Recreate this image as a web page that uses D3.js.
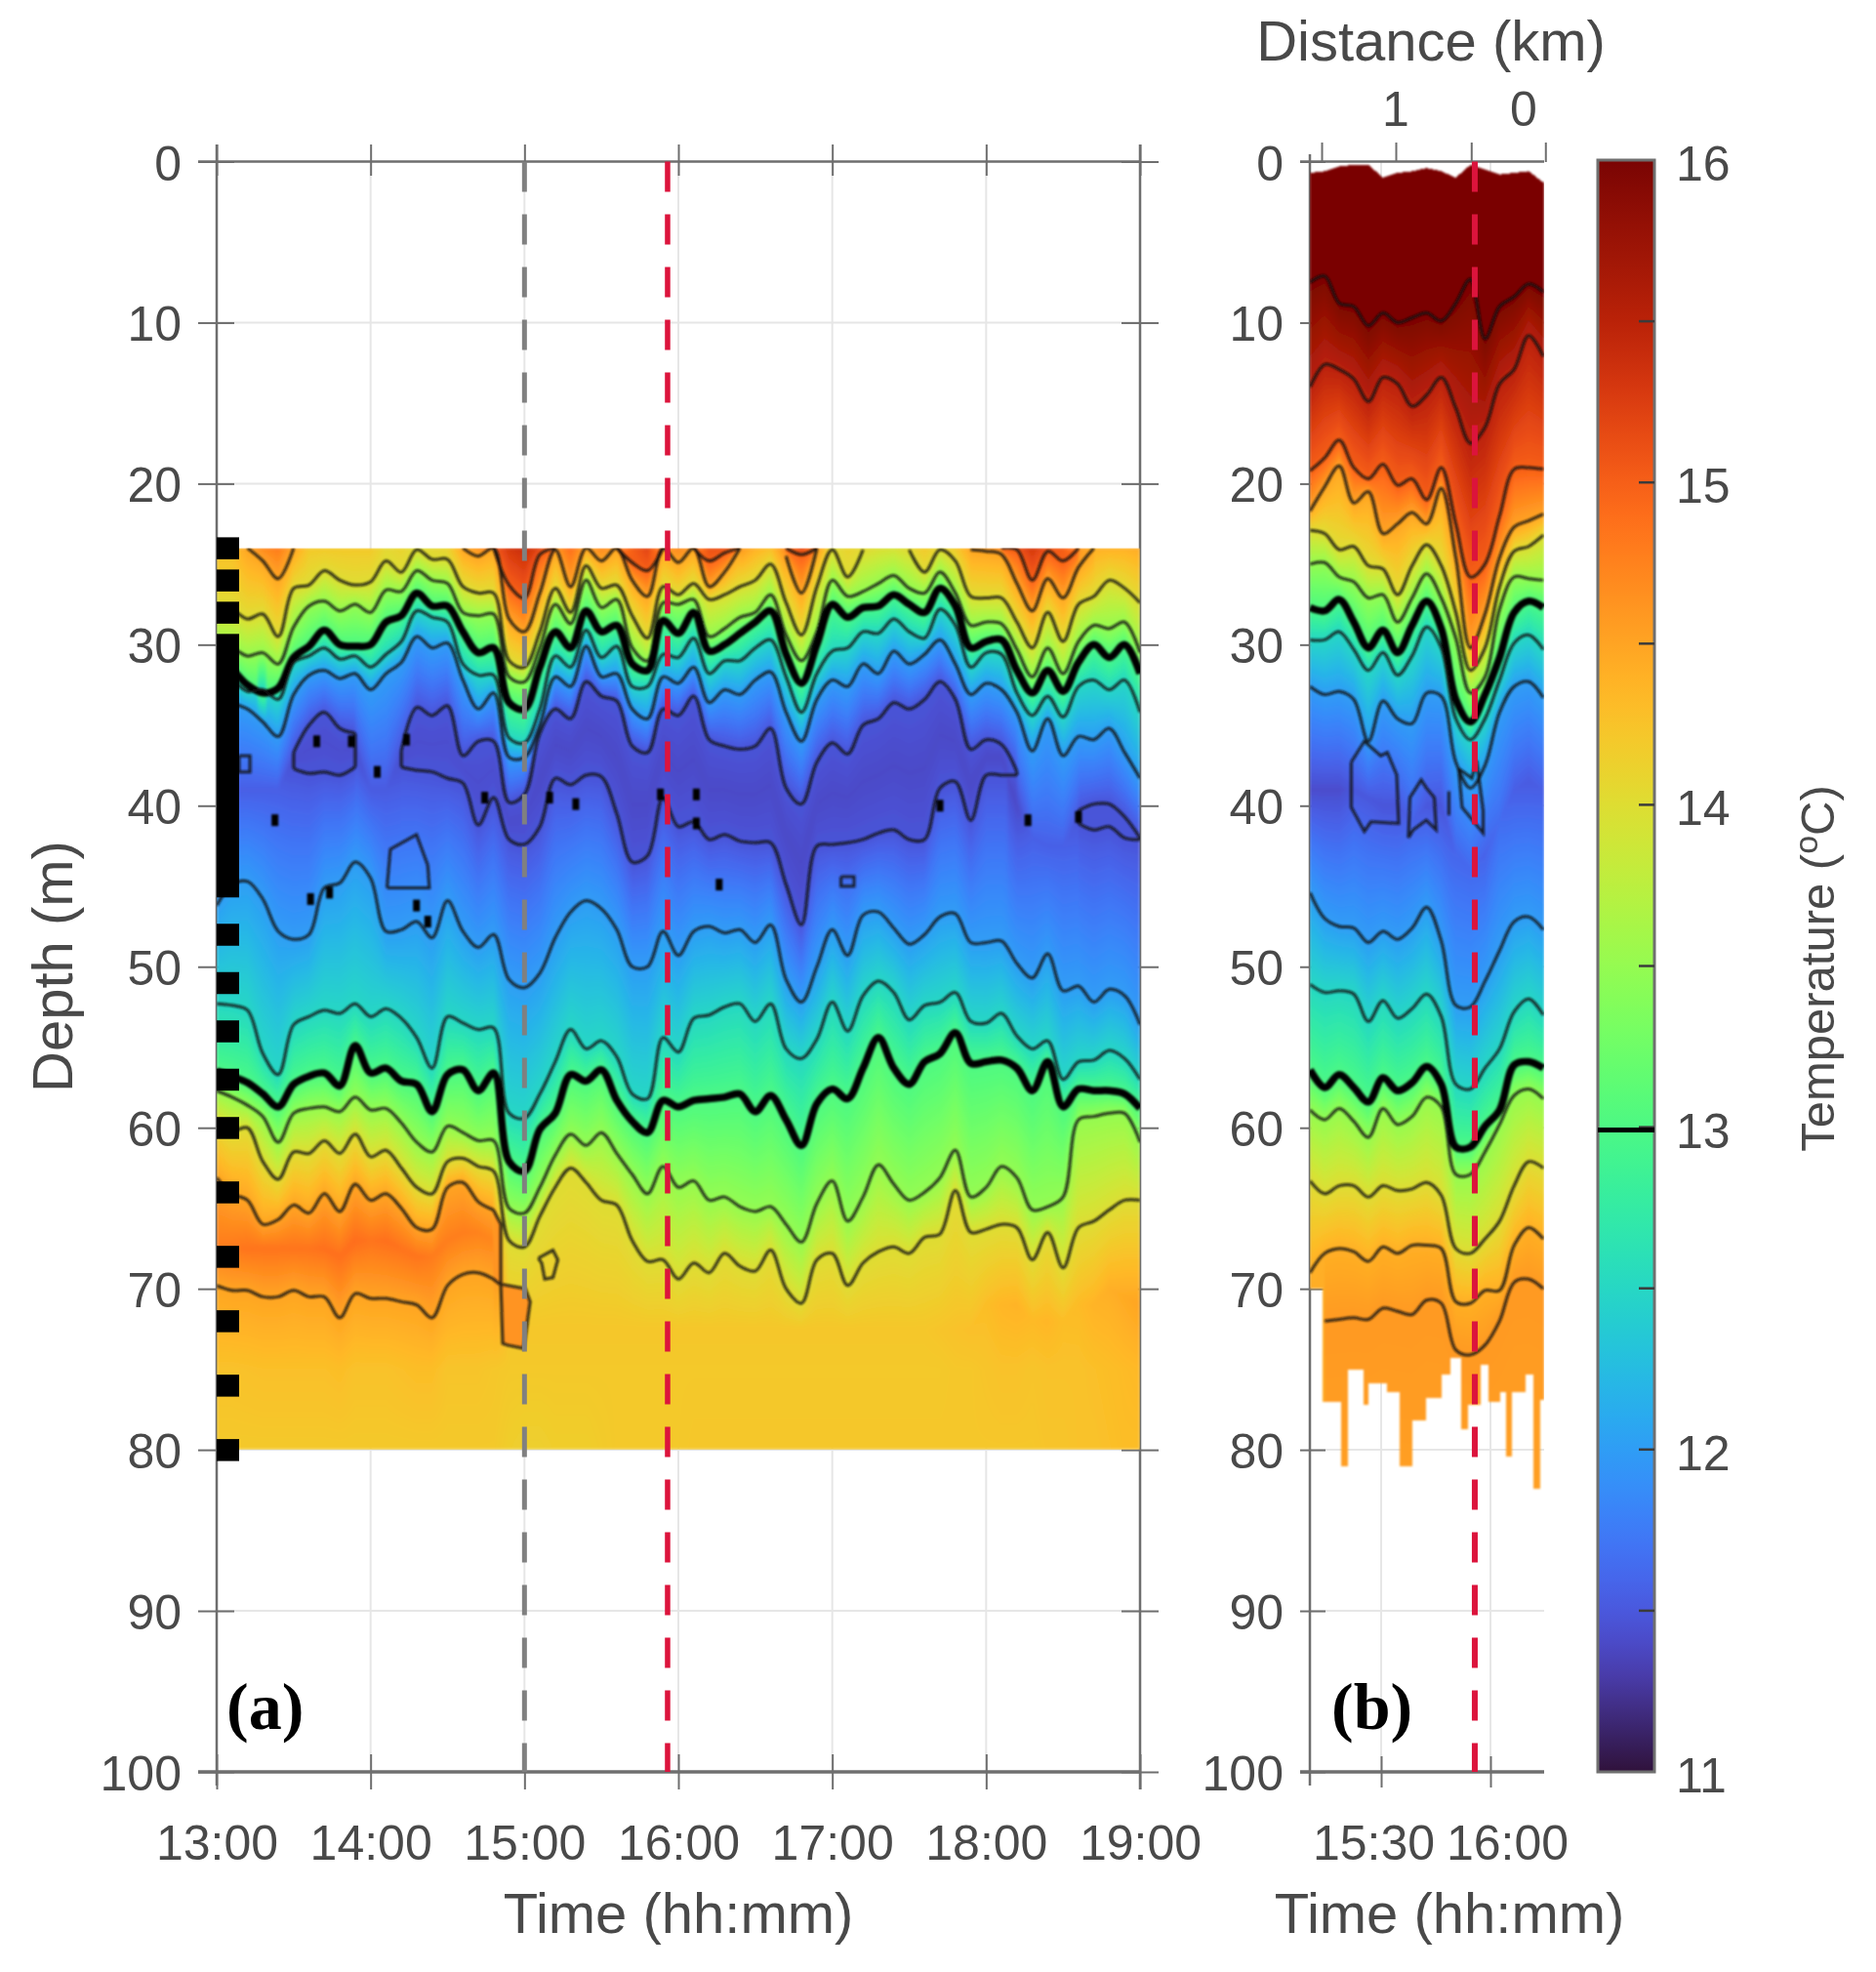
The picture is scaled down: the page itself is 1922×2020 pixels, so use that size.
<!DOCTYPE html>
<html>
<head>
<meta charset="utf-8">
<script src="https://cdn.jsdelivr.net/npm/d3@7"></script>
<style>
  html, body { margin: 0; padding: 0; background: #fff; }
  svg { display: block; }
</style>
</head>
<body>
<div id="chart"></div>
<script>
const n = null

// panel (a): isotherm depth (m) read every 6 minutes from 13:00 to 19:00
const a150 = [n,n,n,n,n,n,n,n,n,n, n,n,n,n,n,n,n,n,24,26.3, 27.1,24.4,24,n,n,n,24,24.9,25.4,24, n,24,24.8,24.3,24,n,n,24,24.4,24, n,n,n,n,n,n,n,n,n,n, n,24,24.1,26,24.2,24.8,24,n,n,n, n]
const a145 = [n,n,24,24.8,25.9,24,n,n,n,n, n,n,n,n,n,n,24,24.5,24,28.4, 29.2,26.8,24.1,26.4,24,24.8,24,26,27,24, 24.9,24,26.4,25.5,24,n,n,24.5,26.8,24, n,n,n,n,n,n,n,n,n,24.1, 24.2,24.4,26.2,27.9,25.9,27.1,25.2,24,n,n, n]
const a140 = [27.6,27.8,28.4,28.1,29.5,26.5,26.3,25.4,26,26.3, 26.1,24.8,25.5,24.1,24.7,24.7,26.4,26.8,26.8,31, 31.4,29.2,26.5,28,25.1,26.5,26.3,28.2,29.6,26.4, 26.9,26.2,27.2,26.9,26.4,26,25,27.4,29.4,26.4, 24.1,25.8,24.1,n,n,24.1,25.5,24.1,24.8,27, 27.1,27.1,28.6,30.2,28,29.8,27.5,27,26,26.5, 27.4]
const a135 = [30.1,30.2,30.7,30.5,31.2,28.9,27.6,27.3,27.9,27.5, 28,26.6,26.7,25.4,26,26.2,28,28.2,28.1,32, 32.3,30.2,27.5,28.7,26,27.7,27.2,30.2,31,27.4, 27.5,27.2,29.5,29,28.3,28,26.9,29.4,31,29.2, 26,27,26.7,26.2,25.7,26.5,26.8,25.5,26.8,28.8, 28.6,28.7,30.3,32,30.2,31.8,29.8,28.8,29,28.6, 30.5]
const a130 = [30.5,31.5,32.5,33,32.7,30.8,30.1,29.1,30,30.1, 30,28.6,28.2,26.8,27.6,27.6,29.2,30.5,30.2,33.6, 34,31.4,29.2,30.2,27.9,29.2,28.8,31.2,31.6,28.5, 29.3,28,30.4,30,29.3,28.6,27.9,30.6,32.4,30, 27.5,28.3,27.7,27.6,26.9,27.5,28,26.5,27.6,30.2, 29.8,29.7,31.6,33,31.6,32.9,31.1,30,30.8,30, 31.8]
const a125 = [31.8,32.2,32.9,32.8,33.4,31.1,30.7,30.2,30.9,30.7, 31.4,30.6,29.8,27.9,28.3,28.6,31.2,31.9,31.9,35.8, 36.1,34,30.7,31.4,29.1,30.8,30.1,32.6,32.6,30.6, 30.8,29.6,31.8,31,31,30.2,29.7,32,34.2,31.8, 30.4,30.2,29.2,29.3,28.4,29.2,29.6,27.8,28.8,31.4, 30.5,30.6,33,34.4,33.2,34.5,32.6,32.2,32.8,32.2, 34.2]
const a120 = [33,33.6,34,34.8,35.7,33.1,31.9,31.6,32.1,31.8, 32.8,31.8,31.1,29.5,30.2,29.9,32.2,34,33,37, 37,35,32,32.6,30.1,32,31.8,34,34.6,32, 32.4,31.4,33.6,32.8,33.1,32.2,31.7,34.2,36,33.4, 32.2,32.6,31.2,31.8,30.4,31.2,30.6,29.7,31.2,33.1, 32.4,32.8,34.2,36.6,34.6,36.9,35.7,35.9,35.2,36.7, 38.3]
const a115up = [n,n,n,n,n,36.7,35,34.2,35.2,35.5, n,n,36.6,33.9,34.4,33.8,36.9,36,36,39.8, 39.3,35.5,34,34.6,32.3,33.2,33.5,36.3,36.7,34, 34.4,33.2,35.9,36.3,36.5,36.3,35.2,38.9,39.9,37.3, 36.1,36.8,35,34.6,33.6,34,33.4,32.3,33.4,36.5, 35.9,36.2,37.9,n,n,n,40.3,39.9,39.9,40.7, 42]
const a115low = [n,n,n,n,n,37.7,38,37.9,38.1,37.6, n,n,37.6,37.8,37.9,38.3,38.6,41.2,39.5,42.1, 42.4,41.3,38.3,38.7,38.1,38.2,40.5,43.5,43.1,39.5, 41.3,41,42.1,41.8,42.2,42.3,42.3,44.9,47.4,42.5, 42.4,42.3,42.1,41.7,41.5,42.1,42.1,38.9,38.5,40.9, 38.1,38.1,38.1,n,n,n,41.1,41.5,41.3,42, 42.1]
const a120low = [46.2,44.9,44.7,45.8,47.8,48.3,48,45.1,44.8,43.5, 44.5,47.8,47.7,47.2,48.2,45.9,47.8,48.8,48,50.8, 51.3,50.4,48.2,46.6,45.9,46.4,47.7,50,50,47.8, 49.3,47.8,47.5,47.9,47.7,48.5,47.4,50.8,52.2,50, 47.7,49.3,46.8,46.6,47.6,48.6,48,46.9,46.7,48.5, 48.5,48.4,49.8,50.7,49.2,51.5,51.2,52.2,51.4,51.8, 53.6]
const a125low = [52.3,52.4,52.7,55.4,56.7,53.6,53.1,52.7,52.9,52.3, 53.1,52.6,53.2,54.4,56.3,53.1,53.5,53.9,53.8,59.1, 59.4,57.9,55.9,53.9,55.1,54.6,55.6,57.9,58.2,54.4, 55.3,53.2,53,52.5,52.3,53.4,52.3,55.1,55.7,54.5, 52.2,54,51.8,50.9,51.6,53.3,52.4,52.2,51.6,53.4, 53.5,52.9,54.3,55.1,54.6,57,55.9,55.8,55.2,55.7, 57]
const a130low = [56.5,56.8,57.2,57.9,58.7,57.3,56.8,56.6,57.4,54.9, 56.6,56.3,57.1,57.3,59,56.7,56.4,57.7,56.6,62.1, 62.7,60.1,59.1,56.7,57.1,56.4,58.3,59.6,60.3,58.3, 58.7,58.3,58.2,58.1,57.9,59,58,59.5,61.1,58.5, 57.6,58.2,56.3,54.4,56.3,57.3,55.9,55.4,54.1,56, 55.9,55.8,56.3,57.7,55.9,58.7,57.6,57.7,57.7,57.9, 58.8]
const a135low = [57.7,58.1,58.6,59.3,60.9,59.1,58.8,58.7,59,58.1, 58.9,58.8,59.7,60.9,61.5,59.9,60.3,60.8,60.8,65, 65.3,63.7,61.7,60.4,61.1,60.3,61.6,62.9,64.1,62.4, 63.7,63.3,64.5,64.3,64.9,65.2,64.9,66,67.1,64.7, 63.3,65.8,64.3,62.3,63.5,64.5,64,63.1,61.4,64.3, 63.7,62.4,63.1,65.1,64.9,64.3,59.5,59.3,59.1,59.1, 60.9]
const a140low = [59.5,60.2,60,62.1,63.2,61.5,61.6,60.8,61.6,60.4, 61.8,61.4,62.5,63.7,64.1,62.1,61.9,62.4,62.7,67, 67.4,65.5,63.7,62.5,63.4,64.5,64.8,67,68.3,68.2, 69.4,68.4,69,67.8,68.6,68.9,67.6,70,70.9,68.2, 67.8,69.8,68.4,67.7,67.4,67.8,66.8,66.6,63.9,66.5, 66.3,66,66.2,68.2,66.5,68.7,66.2,65.8,65.1,64.5, 64.5]
const a145top = [63.1,64.1,64.5,66,65.7,64.8,65.3,64.1,65.2,63.5, 64.5,64.1,65,66.2,66.3,63.7,63.4,64.6,65.1]
const a145bot = [69.8,70.1,70.1,70.5,70.5,70.1,70.5,70.5,71.8,70.3, 70.6,70.6,70.8,71,71.8,69.8,69.1,69,69.4]

// panel (a): temperatures (deg C) read from the shading
const aTopT = [14.3,14.3,14.5,14.7,14.8,14.5,14.2,14.2,14.2,14.2, 14.2,14.05,14.1,14,14.05,14.1,14.5,14.6,15,15.3, 15.4,15.2,14.6,14.9,14.5,14.7,14.6,15,15.2,14.6, 14.7,14.6,15.1,15.1,14.6,14.4,14.3,14.7,15.2,14.6, 14,14.1,14.05,13.98,13.95,14.05,14.2,14.05,14.2,14.5, 14.6,14.7,15.1,15.3,15.1,15,14.6,14.4,14.4,14.4, 14.45]
const aColdD = [39,39,39,39,39,37,36.5,36,36.6,36.5, 39,39,37,36,36.2,36,37.7,38.6,37.7,41, 40.8,38.4,36.2,36.6,35.2,35.7,37,39.9,39.9,36.8, 37.9,37.1,39,39,39.3,39.3,38.7,41.9,43.6,39.9, 39.2,39.5,38.5,38.1,37.5,38,37.7,35.6,36,38.7, 37,37,40,42,42.5,42.5,40.7,40.7,40.6,41.3, 42]
const aColdT = [11.55,11.55,11.55,11.55,11.55,11.43,11.43,11.43,11.43,11.43, 11.52,11.52,11.43,11.43,11.43,11.43,11.43,11.43,11.43,11.42, 11.42,11.4,11.4,11.4,11.4,11.4,11.4,11.4,11.4,11.4, 11.4,11.4,11.4,11.4,11.4,11.4,11.4,11.4,11.4,11.4, 11.4,11.4,11.4,11.4,11.4,11.4,11.4,11.4,11.4,11.4, 11.4,11.4,11.4,11.56,11.56,11.56,11.48,11.48,11.48,11.48, 11.48]
const aWarmD = [67.5,67.5,67.5,67.5,67.5,67.5,67.5,67.5,68,67, 67,67,67.5,68,68,67,66.5,66.5,67,72.5, 72.5,72.5,72.5,72.5,72.5,72.5,72.5,72.5,72.5,72.5, 72.5,72.5,72.5,72.5,72.5,72.5,72.5,72.5,72.5,72.5, 72.5,72.5,72.5,72.5,72.5,72.5,72.5,72.5,72.5,72.5, 71,71,71,72,72,72,71,71,70,70.5, 71]
const aWarmT = [14.8,14.82,14.85,14.85,14.85,14.85,14.85,14.88,14.88,14.9, 14.85,14.88,14.86,14.85,14.8,14.78,14.78,14.75,14.72,14.22, 14.22,14.22,14.22,14.22,14.22,14.22,14.22,14.22,14.22,14.22, 14.22,14.22,14.22,14.22,14.22,14.22,14.22,14.22,14.22,14.22, 14.22,14.22,14.22,14.22,14.22,14.22,14.22,14.24,14.26,14.28, 14.3,14.36,14.38,14.33,14.36,14.3,14.32,14.38,14.42,14.46, 14.5]
const aDeepT = [14.26,14.26,14.27,14.28,14.28,14.28,14.28,14.28,14.3,14.26, 14.26,14.26,14.28,14.3,14.3,14.24,14.24,14.24,14.22,14.2, 14.2,14.2,14.2,14.2,14.2,14.2,14.2,14.2,14.2,14.2, 14.2,14.2,14.2,14.2,14.2,14.2,14.2,14.2,14.2,14.2, 14.2,14.2,14.2,14.2,14.2,14.2,14.2,14.2,14.22,14.22, 14.24,14.26,14.26,14.24,14.26,14.26,14.26,14.28,14.3,14.32, 14.34]
const aBottomT = [14.2,14.2,14.2,14.2,14.2,14.2,14.2,14.2,14.2,14.2, 14.2,14.2,14.2,14.2,14.2,14.2,14.2,14.2,14.2,14.16, 14.14,14.14,14.16,14.16,14.16,14.18,14.2,14.2,14.2,14.2, 14.2,14.22,14.22,14.22,14.22,14.22,14.22,14.22,14.22,14.22, 14.22,14.22,14.22,14.22,14.22,14.22,14.22,14.22,14.22,14.22, 14.22,14.22,14.22,14.22,14.24,14.24,14.26,14.26,14.28,14.3, 14.3]

// panel (b): isotherm depth (m) read every 4 minutes from 15:10:30
const b160 = [7.5,7.1,8.8,9,10.2,9.4,10,9.7,9.4,9.9,8.8,7.3,11,9,8.4,7.6,8.1]
const b155 = [14,12.6,12.9,13.5,14.9,13.4,13.8,15.2,14.5,13.4,15.3,17.5,16.5,13.8,12.9,10.8,12.1]
const b150 = [19.2,18.4,17.3,19,19.7,18.8,20.1,19.7,21,19,22.5,25.8,25,22,19.1,19,19.1]
const b145 = [21.7,20.2,18.9,21.2,20.5,23.1,22.5,21.8,22.5,20.3,24.6,30.2,28.1,24.6,22.7,22.3,21.9]
const b140 = [22.9,23.1,24.1,23.9,25.1,25.3,26.9,25.1,23.8,25.1,28,31.6,30.2,26.4,24.2,23.9,23.2]
const b135 = [25,24.9,25.8,26.1,27.1,26.9,28.6,27.1,25.6,27.1,29.6,33,32,27.8,25.8,25.9,26]
const b130 = [27.7,27.9,27.2,28.6,30.2,29.1,30.5,28.8,27.3,29,33.4,34.8,33.1,30.8,28,27.3,27.7]
const b125 = [29.7,29.7,29.2,30.3,31.6,30.5,31.9,30.7,28.9,30.2,34.6,35.9,34.6,32.2,29.9,29.4,30.3]
const b120 = [32.6,33.1,32.9,33.4,36,33.5,34.6,34.9,33,33.2,37.3,38.9,37.5,34.2,32.6,32.3,33.3]
const b120low = [45.4,47,47.5,47.6,48.5,47.8,48.3,47.6,46.3,48.4,52.4,52.5,50.9,49,47.2,46.9,47.7]
const b125low = [51.1,51.6,51.5,51.7,53.4,52.1,53.2,52.6,51.7,53.1,57.3,57.6,56.3,55.1,52.8,52,53]
const b130low = [56.4,57.5,56.7,57.5,58.4,56.9,57.7,57.2,56.2,57.3,61.2,61.2,59.9,58.9,56.1,55.9,56.3]
const b135low = [58.9,59.5,58.8,59.6,60.6,58.8,59.8,59.3,58.1,58.7,62.9,62.9,61.5,59.8,58,57.6,58.2]
const b140low = [63.3,64.1,63.6,63.6,64.3,63.6,63.9,63.8,63.4,64.2,67.5,67.8,66.9,65.8,63.6,62.1,62.5]
const b145low = [69,67.8,67.5,67.7,68.3,67.4,67.8,67.3,67.3,67.5,70.8,70.9,70.1,70.1,67.3,66.2,66.9]
const b146low = [n,72,71.9,71.8,71.9,71.2,71.4,71.6,70.7,70.9,73.8,74.1,73.5,72,69.6,69.4,70]
const bTopEdge = [0.7,0.6,0.3,0.2,0.2,1,0.7,0.6,0.4,0.6,1,0.2,0.5,0.8,0.7,0.6,1.3]
const bColdD = [39,39,39,39,39.5,40,40,41,40,40,43,44,43,41,39,38.5,39]
const bColdT = [11.42,11.42,11.42,11.5,11.5,11.48,11.48,11.58,11.5,11.48,11.6,11.62,11.58,11.65,11.55,11.52,11.55]

// panel (b): jagged lower limit of the data, start minute of each step and its depth
const bStepT = [10.5,14,19,21,25.3,26.6,31.5,35,38.6,42.2,46.6,49,52,53.8,57.3,59.5,62.6,64.4,66,69.7,71.8,73.6]
const bStepD = [70,77,81,75,77.2,75.9,76.4,81,78.2,76.8,75.3,74.3,78.7,77.2,74.7,77,76.4,80.4,76.4,75.3,82.4,76.9]

// closed contours [minute of day, depth]
const aLobe = [[887.9,65.1],[890.8,66],[890.8,69.8],[891.5,73.4],[893.4,73.5],[899.7,73.7],[902.2,70.8],[900.3,70],[890.2,69.7],[887.9,69.4]]
const aLoops = [
  [[846.4,45.1],[847.7,42.7],[857.9,41.8],[862.3,43.7],[862.9,45.1],[856.6,45.1],[846.4,45.1]],
  [[788.7,36.9],[793,36.9],[793,37.9],[788.7,37.9],[788.7,36.9]],
  [[905.4,68.1],[911.1,67.6],[913,68.2],[911.1,69.3],[907.9,69.4],[906.7,68.4],[905.4,68.1]],
  [[1023.4,44.4],[1028.5,44.4],[1028.5,45],[1023.4,45],[1023.4,44.4]]
]
const bLoops = [
  [[921.8,37.3],[925.4,36],[929.9,36.9],[931.7,36.7],[934.3,38.1],[934.8,41.1],[927.2,41],[925.4,41.6],[921.8,40.1],[921.8,37.3]],
  [[937.5,42],[937.9,39.5],[941,38.4],[942.4,38.9],[944.6,39.5],[945.1,41.5],[942.4,40.9],[938.8,41.5],[937.5,42]],
  [[951.3,37.7],[954.9,38.3],[956.2,37.2],[958,40.3],[958,41.7],[952.2,40.1],[951.3,37.7]],
  [[948.6,39.1],[948.6,40.6]]
]
const aSpecks = [[802.7,40.9],[842.6,37.9],[920,39.9],[909.8,39.5],[884.5,39.5],[953,39.3],[819,36],[832.5,36],[854,35.9],[967,39.3],[1062,40],[1096.3,40.9],[975.9,44.9],[1116,40.7],[967,41.1],[824,45.4],[857.9,46.2],[816.6,45.8],[862.3,47.2]]

const sensorDepths = [24,26,28,30,31,32,33,34,35,36,37,38,39,40,41,42,43,44,45,48,51,54,57,60,64,68,72,76,80]
const depthTicks = [0,10,20,30,40,50,60,70,80,90,100]
const timeTicksA = [780,840,900,960,1020,1080,1140]
const timeTicksB = [930,960]
const distanceTicks = [1.58,1,0.41,-0.17]
const distanceLabels = [1,0]
const tempTicks = [11,11.5,12,12.5,13,13.5,14,14.5,15,15.5,16]
const tempLabels = [11,12,13,14,15,16]

const grayLineTime = 900
const redLineTime = 955.8
const redLineTimeB = 955.7

const textColor = "#4a4a4a"
const axisColor = "#6e6e6e"
const gridColor = "#e6e6e6"
const sans = "'Liberation Sans', Arial, sans-serif"

const W = 1922, H = 2020

const y = d3.scaleLinear().domain([0, 100]).range([165.5, 1815])
const xA = d3.scaleLinear().domain([780, 1140]).range([222, 1168])
const xB = d3.scaleLinear().domain([930, 960]).range([1415, 1527])
const xDist = d3.scaleLinear().domain([1, 0]).range([1430, 1561])
const yTemp = d3.scaleLinear().domain([11, 16]).range([1815, 164])
const temp = d3.scaleLinear().domain([11, 16]).range([0, 1]).clamp(true)

// d3's turbo polynomial misses the dark ends of the real map, so pull those in
const turboLow = d3.interpolateRgb("#30123b", d3.interpolateTurbo(0.06))
const turboHigh = d3.interpolateRgb(d3.interpolateTurbo(0.9), "#7a0403")
function palette(t) {
  if (t < 0.06) return turboLow(t / 0.06)
  if (t > 0.9) return turboHigh((t - 0.9) / 0.1)
  return d3.interpolateTurbo(t)
}
const color = T => palette(temp(T))

const timesA = d3.range(780, 1141, 6)
const timesB = d3.range(910.5, 975, 4)

const svg = d3.select("#chart").append("svg").attr("width", W).attr("height", H)
const defs = svg.append("defs")
defs.append("filter").attr("id", "soft").attr("x", "-2%").attr("y", "-2%").attr("width", "104%").attr("height", "104%")
  .append("feGaussianBlur").attr("stdDeviation", 0.9)
defs.append("filter").attr("id", "softer").attr("x", "-2%").attr("y", "-2%").attr("width", "104%").attr("height", "104%")
  .append("feGaussianBlur").attr("stdDeviation", 1.6)
defs.append("filter").attr("id", "softText").attr("x", "-5%").attr("y", "-5%").attr("width", "110%").attr("height", "110%")
  .append("feGaussianBlur").attr("stdDeviation", 0.7)

const root = svg.append("g")

// value of an array at a fractional knot, null when either end is missing
function at(arr, i, f) {
  const p = arr[i], q = arr[i + 1]
  if (p == null) return null
  if (f === 0) return p
  if (q == null) return null
  return p + (q - p) * f
}

function drawField(opts) {
  const { x, times, isos, extras, x0, x1, d0, d1, limits } = opts
  const py0 = Math.round(y(d0)), py1 = Math.round(y(d1))
  const w = x1 - x0, h = py1 - py0
  const canvas = document.createElement("canvas")
  canvas.width = w
  canvas.height = h
  const ctx = canvas.getContext("2d")
  const img = ctx.createImageData(w, h)
  const table = d3.range(1001).map(i => d3.rgb(palette(i / 1000)))
  const t0 = times[0], step = times[1] - times[0]

  for (let px = 0; px < w; px++) {
    const minute = x.invert(x0 + px + 0.5)
    let pos = (minute - t0) / step
    pos = Math.max(0, Math.min(times.length - 1.001, pos))
    const i = Math.floor(pos), f = pos - i

    const nodes = []
    isos.forEach(iso => {
      const d = at(iso.values, i, f)
      if (d != null) nodes.push([d, iso.fillLevel || iso.level])
    })
    extras.forEach(e => {
      const d = Array.isArray(e.depth) ? at(e.depth, i, f) : e.depth
      const T = Array.isArray(e.temp) ? at(e.temp, i, f) : e.temp
      if (d != null && T != null) nodes.push([d, T])
    })
    nodes.sort((p, q) => p[0] - q[0])
    const profile = d3.scaleLinear().domain(nodes.map(p => p[0])).range(nodes.map(p => p[1])).clamp(true)
    const lim = limits ? limits(minute, i, f) : [d0, d1]

    for (let py = 0; py < h; py++) {
      const depth = y.invert(py0 + py + 0.5)
      if (depth < lim[0] || depth > lim[1]) continue
      const c = table[Math.round(temp(profile(depth)) * 1000)]
      const o = (py * w + px) * 4
      img.data[o] = c.r
      img.data[o + 1] = c.g
      img.data[o + 2] = c.b
      img.data[o + 3] = 255
    }
  }
  ctx.putImageData(img, 0, 0)
  return { href: canvas.toDataURL(), x: x0, y: py0, width: w, height: h }
}

function drawAxes(g, x, left, right, opts) {
  const top = y(0), bottom = y(100)
  // grid
  g.append("g").selectAll("line").data(depthTicks.slice(1, 10)).join("line")
    .attr("x1", left).attr("x2", right).attr("y1", d => y(d)).attr("y2", d => y(d))
    .attr("stroke", gridColor).attr("stroke-width", 2)
  g.append("g").selectAll("line").data(opts.timeTicks).join("line")
    .attr("x1", d => x(d)).attr("x2", d => x(d)).attr("y1", top).attr("y2", bottom)
    .attr("stroke", gridColor).attr("stroke-width", 2)

  // left axis, labels on the outer side and a short tick inside
  g.append("g").attr("transform", `translate(${left},0)`)
    .call(d3.axisLeft(y).tickValues(depthTicks).tickSize(opts.outer).tickPadding(17))
    .call(styleAxis)
    .call(s => s.selectAll(".tick text").attr("dy", "0.37em"))
  g.append("g").attr("transform", `translate(${left},0)`)
    .call(d3.axisRight(y).tickValues(depthTicks).tickSize(opts.inner).tickFormat(""))
    .call(styleAxis)

  // bottom axis
  const fmt = m => d3.format("02")(Math.floor(m / 60)) + ":" + d3.format("02")(m % 60)
  const bottomAxis = g.append("g").attr("transform", `translate(0,${bottom})`)
    .call(d3.axisBottom(x).tickValues(opts.timeTicks).tickSize(opts.inner).tickPadding(54 - opts.inner).tickFormat(fmt))
    .call(styleAxis)
  if (opts.labelShift) bottomAxis.selectAll(".tick text").attr("dx", (d, i) => opts.labelShift[i])
  g.append("g").attr("transform", `translate(0,${bottom})`)
    .call(d3.axisTop(x).tickValues(opts.timeTicks).tickSize(opts.inner).tickFormat(""))
    .call(styleAxis)

  g.selectAll(".domain").remove()
  g.append("path").attr("d", `M${left},${opts.axisTop}V${bottom + 14}`).attr("stroke", axisColor).attr("stroke-width", 2.5).attr("fill", "none")
  g.append("path").attr("d", `M${left - opts.outer},${bottom}H${right}`).attr("stroke", axisColor).attr("stroke-width", 3.5).attr("fill", "none")
  g.append("path").attr("d", `M${left - opts.outer},${top}H${right}`).attr("stroke", axisColor).attr("stroke-width", 2.5).attr("fill", "none")
}

function styleAxis(sel) {
  sel.selectAll(".tick line").attr("stroke", axisColor).attr("stroke-width", 2)
  sel.selectAll(".tick text").attr("fill", textColor).style("font-family", sans).style("font-size", "50px")
  sel.attr("font-family", null)
}

function drawContours(g, x, times, isos, clipId) {
  const line = d3.line()
    .defined(d => d.v != null)
    .x(d => x(d.t))
    .y(d => y(d.v))
    .curve(d3.curveCatmullRom.alpha(0.5))
  const layer = g.append("g").attr("clip-path", `url(#${clipId})`).attr("filter", "url(#soft)")
  layer.selectAll("path.iso").data(isos).join("path")
    .attr("class", "iso")
    .attr("d", iso => line(iso.values.map((v, k) => ({ t: times[k], v: v === undefined ? null : v }))))
    .attr("fill", "none")
    .attr("stroke", iso => iso.thick ? "#000" : "#101010")
    .attr("stroke-opacity", iso => iso.thick ? 1 : 0.85)
    .attr("stroke-width", iso => iso.thick ? 7.5 : 3)
    .attr("stroke-linejoin", "round")
  return layer
}

function drawLoops(layer, x, loops) {
  const loopLine = d3.line().x(d => x(d[0])).y(d => y(d[1]))
  layer.selectAll("path.loop").data(loops).join("path")
    .attr("class", "loop")
    .attr("d", loopLine)
    .attr("fill", "none")
    .attr("stroke", "#101010")
    .attr("stroke-opacity", 0.85)
    .attr("stroke-width", 3)
}

function drawDashed(g, xpos, stroke, width) {
  g.append("line")
    .attr("x1", xpos).attr("x2", xpos).attr("y1", y(0)).attr("y2", y(100))
    .attr("stroke", stroke).attr("stroke-width", width)
    .attr("stroke-dasharray", "31 23")
}

// ---------- panel (a) ----------
const panelA = root.append("g")
drawAxes(panelA, xA, 222, 1168, { timeTicks: timeTicksA, outer: 19, inner: 18, axisTop: 148 })
// right axis of panel (a)
panelA.append("g").attr("transform", "translate(1168,0)")
  .call(d3.axisRight(y).tickValues(depthTicks).tickSize(19).tickFormat("")).call(styleAxis)
  .call(s => s.select(".domain").remove())
panelA.append("g").attr("transform", "translate(1168,0)")
  .call(d3.axisLeft(y).tickValues(depthTicks).tickSize(19).tickFormat("")).call(styleAxis)
  .call(s => s.select(".domain").remove())
panelA.append("path").attr("d", "M1168,148V1833").attr("stroke", axisColor).attr("stroke-width", 2.5)
panelA.append("g").attr("transform", "translate(0,166)")
  .call(d3.axisTop(xA).tickValues(timeTicksA).tickSize(18).tickFormat("")).call(styleAxis)
  .call(s => s.select(".domain").remove())
panelA.append("g").attr("transform", "translate(0,166)")
  .call(d3.axisBottom(xA).tickValues(timeTicksA).tickSize(14).tickFormat("")).call(styleAxis)
  .call(s => s.select(".domain").remove())

const isosA = [
  { level: 15, values: a150 },
  { level: 14.5, values: a145 },
  { level: 14, values: a140 },
  { level: 13.5, values: a135 },
  { level: 13, values: a130, thick: true },
  { level: 12.5, values: a125 },
  { level: 12, values: a120 },
  { level: 11.5, fillLevel: 11.47, values: a115up },
  { level: 11.5, fillLevel: 11.47, values: a115low },
  { level: 12, values: a120low },
  { level: 12.5, values: a125low },
  { level: 13, values: a130low, thick: true },
  { level: 13.5, values: a135low },
  { level: 14, values: a140low },
  { level: 14.5, values: a145top },
  { level: 14.5, values: a145bot }
]
const fieldA = drawField({
  x: xA, times: timesA, isos: isosA,
  x0: 222, x1: 1168, d0: 24, d1: 80,
  extras: [
    { depth: 24, temp: aTopT },
    { depth: 80, temp: aBottomT },
    { depth: 75, temp: aDeepT },
    { depth: aColdD, temp: aColdT },
    { depth: aWarmD, temp: aWarmT }
  ]
})
panelA.append("clipPath").attr("id", "clipA").append("rect")
  .attr("x", 222).attr("y", y(24)).attr("width", 946).attr("height", y(80) - y(24))
panelA.append("image").attr("href", fieldA.href)
  .attr("x", fieldA.x).attr("y", fieldA.y).attr("width", fieldA.width).attr("height", fieldA.height)
  .attr("preserveAspectRatio", "none").attr("filter", "url(#softer)")
  .attr("clip-path", "url(#clipA)")

const lobeLine = d3.line().x(d => xA(d[0])).y(d => y(d[1]))
panelA.append("path").attr("d", lobeLine(aLobe)).attr("fill", color(14.62)).attr("filter", "url(#soft)")

const contoursA = drawContours(panelA, xA, timesA, isosA, "clipA")
drawLoops(contoursA, xA, aLoops.concat([aLobe]))
// closures of the cold core where it pinches out
const closures = []
a115up.forEach((v, k) => {
  if (v == null) return
  if (a115up[k - 1] == null || a115up[k + 1] == null) closures.push([[timesA[k], v], [timesA[k], a115low[k]]])
})
contoursA.selectAll("path.close").data(closures).join("path")
  .attr("class", "close").attr("d", lobeLine).attr("fill", "none")
  .attr("stroke", "#101010").attr("stroke-opacity", 0.85).attr("stroke-width", 3)
contoursA.selectAll("rect.speck").data(aSpecks).join("rect")
  .attr("class", "speck")
  .attr("x", d => xA(d[0]) - 3.5).attr("y", d => y(d[1]) - 6)
  .attr("width", 7).attr("height", 12).attr("fill", "#060606")

drawDashed(panelA, xA(grayLineTime), "#808080", 5)
drawDashed(panelA, xA(redLineTime), "#dc143c", 5.5)

panelA.append("g").selectAll("rect").data(sensorDepths).join("rect")
  .attr("x", 222).attr("y", d => y(d) - 11)
  .attr("width", 23).attr("height", 22.5)
  .attr("fill", "#000")

// ---------- panel (b) ----------
const panelB = root.append("g")
drawAxes(panelB, xB, 1342, 1582, { timeTicks: timeTicksB, outer: 10, inner: 16, axisTop: 158, labelShift: [-8, 17] })
panelB.append("g").attr("transform", "translate(0,166)")
  .call(d3.axisTop(xDist).tickValues(distanceTicks).tickSize(20).tickFormat("")).call(styleAxis)
  .call(s => s.select(".domain").remove())

const isosB = [
  { level: 16, values: b160 },
  { level: 15.5, values: b155 },
  { level: 15, values: b150 },
  { level: 14.5, values: b145 },
  { level: 14, values: b140 },
  { level: 13.5, values: b135 },
  { level: 13, values: b130, thick: true },
  { level: 12.5, values: b125 },
  { level: 12, values: b120 },
  { level: 12, values: b120low },
  { level: 12.5, values: b125low },
  { level: 13, values: b130low, thick: true },
  { level: 13.5, values: b135low },
  { level: 14, values: b140low },
  { level: 14.42, values: b145low },
  { level: 14.58, values: b146low }
]
const stepIndex = d3.bisector(d => d).right
const fieldB = drawField({
  x: xB, times: timesB, isos: isosB,
  x0: 1342, x1: 1582, d0: 0, d1: 84,
  extras: [
    { depth: bTopEdge, temp: 16.5 },
    { depth: bColdD, temp: bColdT },
    { depth: 95, temp: 14.5 }
  ],
  limits: (minute, i, f) => {
    const k = Math.max(0, stepIndex(bStepT, minute - 900) - 1)
    return [at(bTopEdge, i, f), bStepD[k]]
  }
})
panelB.append("clipPath").attr("id", "clipB").append("rect")
  .attr("x", 1342).attr("y", y(0)).attr("width", 240).attr("height", y(84) - y(0))
panelB.append("image").attr("href", fieldB.href)
  .attr("x", fieldB.x).attr("y", fieldB.y).attr("width", fieldB.width).attr("height", fieldB.height)
  .attr("preserveAspectRatio", "none").attr("filter", "url(#soft)")
  .attr("clip-path", "url(#clipB)")

const contoursB = drawContours(panelB, xB, timesB, isosB, "clipB")
drawLoops(contoursB, xB, bLoops)

drawDashed(panelB, xB(redLineTimeB), "#dc143c", 6)

// distance labels on top of panel (b)
panelB.append("g").selectAll("text").data(distanceLabels).join("text")
  .attr("x", d => xDist(d)).attr("y", 129)
  .attr("text-anchor", "middle")
  .attr("fill", textColor).style("font-family", sans).style("font-size", "50px")
  .text(d => d)

// ---------- colour bar ----------
const bar = root.append("g")
const grad = defs.append("linearGradient").attr("id", "turbo").attr("x1", 0).attr("x2", 0).attr("y1", 1).attr("y2", 0)
grad.selectAll("stop").data(d3.range(0, 1.0001, 0.02)).join("stop")
  .attr("offset", d => d).attr("stop-color", d => palette(d))
bar.append("rect").attr("x", 1637).attr("y", yTemp(16)).attr("width", 58).attr("height", yTemp(11) - yTemp(16))
  .attr("fill", "url(#turbo)").attr("stroke", "#6f6f6f").attr("stroke-width", 3)
bar.append("g").selectAll("line").data(tempTicks.slice(1, -1)).join("line")
  .attr("x1", 1679).attr("x2", 1695).attr("y1", d => yTemp(d)).attr("y2", d => yTemp(d))
  .attr("stroke", "#3b3b3b").attr("stroke-width", 2.5)
bar.append("line").attr("x1", 1637).attr("x2", 1695).attr("y1", yTemp(13) + 3).attr("y2", yTemp(13) + 3)
  .attr("stroke", "#000").attr("stroke-width", 5)
bar.append("g").selectAll("text").data(tempLabels).join("text")
  .attr("x", 1717).attr("y", d => yTemp(d) + 21)
  .attr("fill", textColor).style("font-family", sans).style("font-size", "50px")
  .text(d => d)

// ---------- titles ----------
const titles = root.append("g").attr("fill", textColor).style("font-family", sans).style("font-size", "58px")
titles.append("text").attr("x", 695).attr("y", 1980).attr("text-anchor", "middle").text("Time (hh:mm)")
titles.append("text").attr("x", 1485).attr("y", 1980).attr("text-anchor", "middle").text("Time (hh:mm)")
titles.append("text").attr("x", 1466).attr("y", 62).attr("text-anchor", "middle").text("Distance (km)")
titles.append("text").attr("transform", "translate(74,990) rotate(-90)").attr("text-anchor", "middle").text("Depth (m)")
const tempTitle = titles.append("text").attr("transform", "translate(1879,992) rotate(-90)").attr("text-anchor", "middle").style("font-size", "49px")
tempTitle.append("tspan").text("Temperature (")
tempTitle.append("tspan").attr("dy", -17).style("font-size", "34px").text("o")
tempTitle.append("tspan").attr("dy", 17).text("C)")

root.append("g").style("font-family", "'Liberation Serif', 'Times New Roman', serif")
  .style("font-size", "68px").style("font-weight", "bold").attr("fill", "#000")
  .selectAll("text").data([["(a)", 232], ["(b)", 1364]]).join("text")
  .attr("x", d => d[1]).attr("y", 1771).text(d => d[0])

root.selectAll("text").attr("filter", "url(#softText)")
</script>
</body>
</html>
